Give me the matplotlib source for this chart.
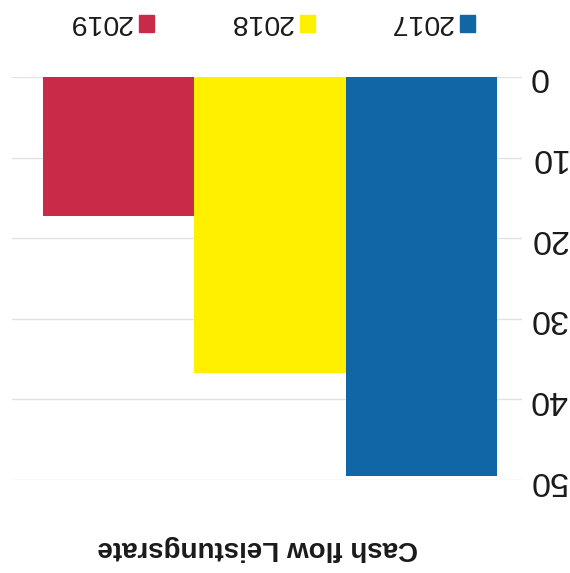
import matplotlib
matplotlib.use('Agg')
import matplotlib.pyplot as plt
from matplotlib.patches import Rectangle

# chart values (the scanned chart is upside down, so everything is drawn rotated 180 deg)
years = ['2017', '2018', '2019']
values = [49.5, 36.7, 17.2]
colors = ['#1166a6', '#fff000', '#c92a48']
title = 'Cash flow Leistungsrate'
yticks = [0, 10, 20, 30, 40, 50]

plt.rcParams['font.family'] = ['Liberation Sans', 'DejaVu Sans']

W, H = 570, 573
fig = plt.figure(figsize=(W/100, H/100), dpi=100)
ax = fig.add_axes([12/W, 1 - 480/H, 510/W, 403/H])

for i, (yr, v, c) in enumerate(zip(years, values, colors)):
    ax.bar(i, v, width=1.0, color=c, label=yr, zorder=2)

ax.set_ylim(50, 0)
ax.set_xlim(2.705, -0.666)
ax.set_yticks(yticks)
ax.set_xticks([])
ax.yaxis.tick_right()
ax.tick_params(axis='y', length=0, pad=5, labelsize=24.5, labelcolor='#1a1a1a',
               labelrotation=180)
for lab in ax.get_yticklabels():
    lab.set_ha('left')
    lab.set_va('center')
ax.grid(axis='y', color='#e2e2e2', lw=1, zorder=0)
for s in ax.spines.values():
    s.set_visible(False)

# legend drawn by hand (rotated): text left of the colour square
sq_w, sq_h = 15, 17
for i, (yr, c) in enumerate(zip(years, colors)):
    sx = 460 - i * 160.5          # left edge of square, pixels
    fig.add_artist(Rectangle((sx / W, 1 - 32 / H), sq_w / W, sq_h / H,
                             transform=fig.transFigure, color=c))
    fig.text((sx - 7) / W, 1 - 22 / H, yr, rotation=180, ha='right', va='center',
             fontsize=20.5, color='#1a1a1a')

fig.text(258/W, 1 - 548/H, title, rotation=180, ha='center', va='center',
         fontsize=20, fontweight='bold', color='#1a1a1a')

fig.savefig('out.png', dpi=100)
